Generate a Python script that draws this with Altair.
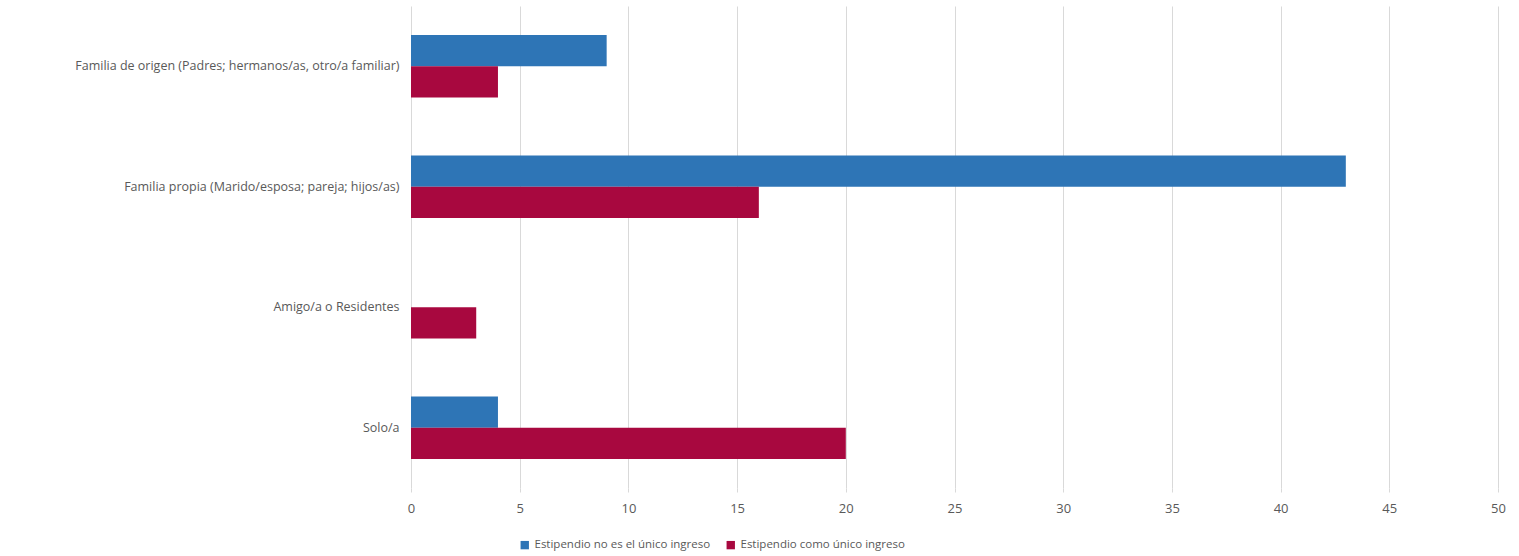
import altair as alt
import pandas as pd

categories = [
    "Familia de origen (Padres; hermanos/as, otro/a familiar)",
    "Familia propia (Marido/esposa; pareja; hijos/as)",
    "Amigo/a o Residentes",
    "Solo/a",
]
series = ["Estipendio no es el único ingreso", "Estipendio como único ingreso"]
no_unico = [9, 43, 0, 4]
unico = [4, 16, 3, 20]
colors = ["#2E75B6", "#A8083F"]

rows = []
for c, a, b in zip(categories, no_unico, unico):
    rows.append({"cat": c, "serie": series[0], "v": a})
    rows.append({"cat": c, "serie": series[1], "v": b})
df = pd.DataFrame(rows)

font = "Open Sans"

chart = alt.Chart(df).mark_bar().encode(
    y=alt.Y("cat:N", sort=categories, title=None,
            scale=alt.Scale(paddingInner=0.48, paddingOuter=0.24),
            axis=alt.Axis(labelFont=font, labelFontSize=12.5, labelColor="#595959",
                          labelPadding=12, ticks=False, domain=False, labelLimit=500)),
    yOffset=alt.YOffset("serie:N", sort=series),
    x=alt.X("v:Q", title=None,
            scale=alt.Scale(domain=[0, 50]),
            axis=alt.Axis(values=list(range(0, 51, 5)), grid=True, gridColor="#d9d9d9",
                          domain=False, tickColor="#d9d9d9", tickSize=4,
                          labelFont=font, labelFontSize=13, labelColor="#595959",
                          labelPadding=10, labelFlush=False)),
    color=alt.Color("serie:N", sort=series,
                    scale=alt.Scale(domain=series, range=colors),
                    legend=alt.Legend(title=None, orient="none", direction="horizontal",
                                      legendX=108, legendY=533, symbolType="square",
                                      symbolSize=70, symbolStrokeWidth=0,
                                      labelFont=font, labelFontSize=11.5, labelLimit=400,
                                      labelColor="#595959", columnPadding=14,
                                      symbolOffset=0)),
).properties(
    width=1087, height=482,
    padding={"left": 411, "top": 6, "right": 21, "bottom": 68},
    autosize=alt.AutoSizeParams(type="none"),
).configure(background="white").configure_view(stroke=None, strokeWidth=0)

chart.save("out.html", embed_options={"renderer": "svg", "actions": False})
